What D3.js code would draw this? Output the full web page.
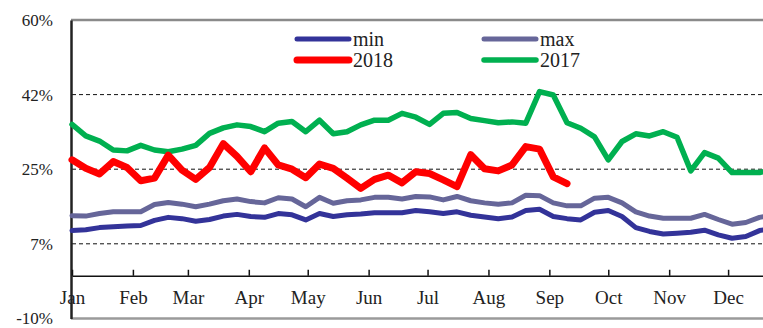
<!DOCTYPE html>
<html>
<head>
<meta charset="utf-8">
<script src="https://cdn.jsdelivr.net/npm/d3@7"></script>
<style>
  html, body { margin: 0; padding: 0; background: #fff; }
  svg { display: block; }
  text { font-family: "Liberation Serif", "DejaVu Serif", serif; fill: #222; }
</style>
</head>
<body>
<svg id="chart" width="763" height="328"></svg>
<script>
// Weekly series, one value per week starting 1 Jan (percent)
const minSeries = [10.6, 10.8, 11.3, 11.5, 11.7, 11.8, 13.0, 13.7, 13.4, 12.8, 13.2, 14.0, 14.4,
  13.9, 13.7, 14.6, 14.3, 13.1, 14.6, 13.9, 14.3, 14.5, 14.8, 14.8, 14.8, 15.3, 15.0,
  14.6, 15.0, 14.2, 13.8, 13.4, 13.8, 15.3, 15.6, 13.9, 13.4, 13.1, 14.9,
  15.3, 13.9, 11.3, 10.4, 9.8, 10.0, 10.2, 10.7, 9.6, 8.8, 9.2, 10.6, 11.1];
const maxSeries = [14.1, 14.0, 14.6, 15.0, 15.0, 15.0, 16.7, 17.2, 16.8, 16.2, 16.8, 17.6, 18.0,
  17.4, 17.1, 18.3, 18.0, 16.2, 18.4, 17.0, 17.6, 17.8, 18.4, 18.4, 18.0, 18.6, 18.5,
  17.8, 18.6, 17.6, 17.1, 16.8, 17.1, 18.9, 18.8, 17.1, 16.4, 16.4, 18.2,
  18.4, 17.1, 15.0, 14.0, 13.5, 13.5, 13.5, 14.4, 13.2, 12.1, 12.5, 13.7, 14.3];
const series2018 = [27.2, 25.2, 23.9, 26.8, 25.4, 22.3, 22.9, 28.3, 24.8, 22.6, 25.4, 31.0, 28.0,
  24.4, 30.0, 26.0, 25.0, 23.0, 26.2, 25.2, 22.9, 20.5, 22.6, 23.6, 21.8, 24.4, 24.0,
  22.5, 20.9, 28.4, 25.1, 24.6, 26.0, 30.3, 29.7, 23.2, 21.6];
const series2017 = [35.5, 32.8, 31.6, 29.5, 29.3, 30.6, 29.5, 29.1, 29.7, 30.6, 33.4, 34.7, 35.4,
  35.0, 33.8, 35.8, 36.2, 33.8, 36.5, 33.3, 33.8, 35.4, 36.5, 36.5, 38.1, 37.2, 35.5,
  38.1, 38.3, 36.9, 36.4, 35.9, 36.1, 35.8, 43.2, 42.4, 35.9, 34.6, 32.6,
  27.2, 31.5, 33.3, 32.8, 33.8, 32.5, 24.6, 28.9, 27.6, 24.2, 24.2, 24.2, 25.0];

const monthLabels = ["Jan", "Feb", "Mar", "Apr", "May", "Jun", "Jul", "Aug", "Sep", "Oct", "Nov", "Dec"];
const yTickValues = [-10, 7.5, 25, 42.5, 60];
const yTickLabels = ["-10%", "7%", "25%", "42%", "60%"];

const seriesDefs = [
  { name: "min",  values: minSeries,  color: "#333399", width: 5 },
  { name: "max",  values: maxSeries,  color: "#666699", width: 5 },
  { name: "2017", values: series2017, color: "#00B050", width: 5.5 },
  { name: "2018", values: series2018, color: "#FF0000", width: 7 }
];

const svg = d3.select("#chart");
const plotLeft = 72, plotTop = 20, plotBottom = 318.4;
const yearStart = new Date(2018, 0, 1), yearEnd = new Date(2019, 0, 1);

const x = d3.scaleTime().domain([yearStart, yearEnd]).range([plotLeft, 789]);
const y = d3.scaleLinear().domain([-10, 60]).range([plotBottom, plotTop]);
const weekDate = i => d3.timeDay.offset(yearStart, 7 * i);

// horizontal dashed gridlines
svg.append("g").selectAll("line")
  .data(yTickValues.filter(v => v > -10 && v < 60))
  .join("line")
  .attr("x1", plotLeft).attr("x2", 763)
  .attr("y1", d => y(d)).attr("y2", d => y(d))
  .attr("stroke", "#111").attr("stroke-width", 1)
  .attr("stroke-dasharray", "4,3");

// top and bottom frame
svg.append("line").attr("x1", plotLeft - 1).attr("x2", 763)
  .attr("y1", y(60)).attr("y2", y(60))
  .attr("stroke", "#8a8a8a").attr("stroke-width", 2.5);
svg.append("line").attr("x1", plotLeft - 1).attr("x2", 763)
  .attr("y1", y(-10)).attr("y2", y(-10))
  .attr("stroke", "#9a9a9a").attr("stroke-width", 2.5);

// y axis
const yAxis = d3.axisLeft(y).tickValues(yTickValues)
  .tickFormat((d, i) => yTickLabels[i]).tickSize(0).tickPadding(18);
const gy = svg.append("g").attr("transform", `translate(${plotLeft - 1},0)`).call(yAxis);
gy.select(".domain").attr("stroke", "#222").attr("stroke-width", 2.5);
gy.selectAll("text").attr("font-size", 17)
  .style("font-family", "'Liberation Serif', serif").attr("fill", "#222");

// x axis along the 0% line, ticks pointing up
const monthStarts = d3.timeMonth.range(yearStart, yearEnd);
const xAxis = d3.axisTop(x).tickValues(monthStarts)
  .tickFormat((d, i) => monthLabels[i]).tickSize(6).tickSizeOuter(0);
const gx = svg.append("g").attr("transform", `translate(0,${y(0)})`).call(xAxis);
gx.select(".domain").attr("stroke", "#111").attr("stroke-width", 1.5);
gx.selectAll(".tick line").attr("stroke", "#111").attr("stroke-width", 1.5);
gx.selectAll("text")
  .attr("y", 28).attr("dy", 0)
  .attr("font-size", 19)
  .style("font-family", "'Liberation Serif', serif").attr("fill", "#222");

// series lines
const line = d3.line()
  .x((d, i) => x(weekDate(i)))
  .y(d => y(d));

svg.append("g").selectAll("path")
  .data(seriesDefs)
  .join("path")
  .attr("d", d => line(d.values))
  .attr("fill", "none")
  .attr("stroke", d => d.color)
  .attr("stroke-width", d => d.width)
  .attr("stroke-linejoin", "round")
  .attr("stroke-linecap", "round");

// legend: two columns, two rows
const legendItems = [
  { name: "min",  col: 0, row: 0 },
  { name: "2018", col: 0, row: 1 },
  { name: "max",  col: 1, row: 0 },
  { name: "2017", col: 1, row: 1 }
];
const legend = svg.append("g");
legendItems.forEach(item => {
  const def = seriesDefs.find(s => s.name === item.name);
  const lx = 297 + item.col * 187, ly = 39 + item.row * 21;
  legend.append("line")
    .attr("x1", lx).attr("x2", lx + 52)
    .attr("y1", ly).attr("y2", ly)
    .attr("stroke", def.color).attr("stroke-width", def.width)
    .attr("stroke-linecap", "round");
  legend.append("text")
    .attr("x", lx + 56).attr("y", ly + 7)
    .attr("font-size", 20)
    .text(item.name);
});
</script>
</body>
</html>
